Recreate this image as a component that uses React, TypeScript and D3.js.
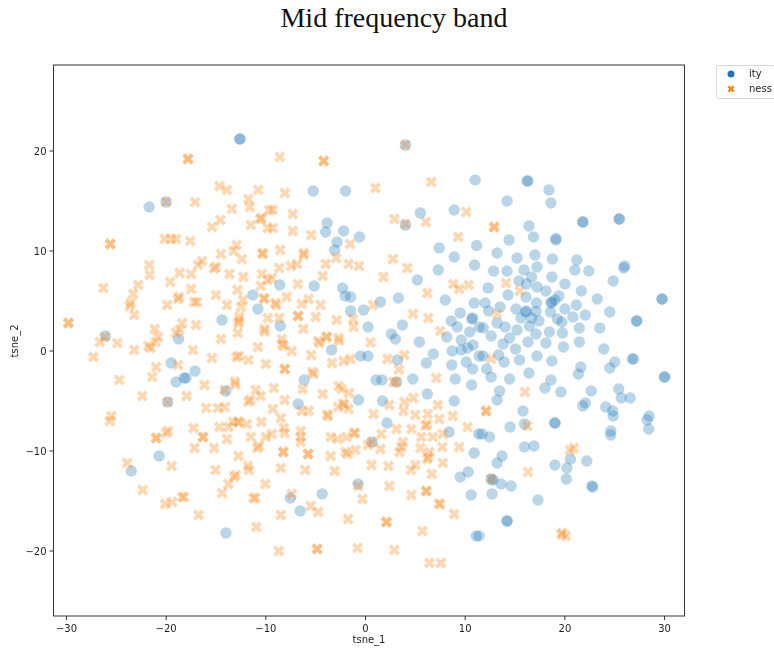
import React from "react";
import * as d3 from "d3";

const title = "Mid frequency band";
const xTicks = [-30, -20, -10, 0, 10, 20, 30];
const yTicks = [-20, -10, 0, 10, 20];
const legendLabels = ["ity", "ness"];

const ityPoints: [number, number][] = [
[-12.6,21.2],[-12.6,21.2],[-21.7,14.4],[-20,14.9],[-11.3,5.6],[-10.8,4.2],[-14.4,3.1],[-26.1,1.5],[-18.75,1.2],
[-19.5,-1.2],[-17.1,-2],[-19,-3.1],[-18.2,-2.7],[-18,-2.7],[-14,-4],[-19.85,-5.1],[-20.7,-10.5],[-23.5,-12],[-14,-18.2],
[4,20.6],[11,17.1],[-5.25,16],[-2,16],[8.9,14.1],[5.5,13.8],[-3.85,12.8],[-4,11.9],[-2.2,12],[4,12.6],[-0.6,11.4],[-2.85,10.9],[-3.1,10.1],[7.4,10.3],[11.15,10.55],[8.9,9.4],[10.95,8.6],[7.3,8.1],[5.2,7.1],[-8.6,6.6],[-5.15,6.5],[-2.3,6.3],[-2.05,5.5],[-1.5,5.4],[3.3,5.3],[8,5.1],[1.5,4.9],[10.9,4.8],[-1.5,4],[-0.2,4.1],[9.5,3.8],[8.6,3],[9.2,2.4],[10.65,3.2],[10.75,3.3],[10.45,1.9],[3.7,2.6],[0.25,2.4],[-8.55,2.5],[2.6,1.7],[3,1.2],[5.4,0.9],[8.15,1.4],[9.6,1.1],[11.4,2.4],
[-3.4,0.1],[-0.5,-0.5],[0.25,-0.5],[6.8,-0.3],[6.1,-1.2],[3.2,-0.9],[8.7,0],[9.6,0.1],[10.25,0.3],[10.8,0.6],[8.65,-1.4],[10.1,-1.1],[10.75,-1.8],[11.4,-0.5],[-6.15,-2.9],[1.05,-2.9],[1.65,-2.9],[3.1,-3.1],[4.75,-2.8],[9,-2.8],[10.65,-3.4],[6.2,-4.3],[8.9,-5],[-0.7,-4.9],[1.7,-5],[-6.75,-5.3],[2.15,-7.2],[8.4,-8.1],[11.35,-8.3],[0.65,-9.1],[10.9,-10.2],[10.3,-12.1],[9.5,-12.6],[-0.75,-13.3],[-4.35,-14.3],[-7.55,-14.7],[-6.55,-16],[10.6,-14.4],[11.1,-18.5],
[16.3,17],[16.2,17],[18.4,16.1],[14.2,15],[18.6,14.8],[16.4,12.5],[21.8,12.9],[21.8,12.9],[25.45,13.2],[25.45,13.2],[16.85,11.4],[14.4,11.1],[19.1,11.1],[19.1,11.25],[13.2,9.8],[17,9.6],[15.2,9.3],[18.75,9.2],[21.2,9.1],[17.2,8.4],[26,8.5],[25.9,8.3],[21,8.1],[22.4,8],[12.85,8],[14.2,8],[15.9,8.1],[18.7,7.4],[16.65,7.4],[24.85,7],[15.4,7],[16.15,6.7],[20,6.7],[17.2,6.4],[12.3,6.3],[18.1,6],[21.65,6],[14.3,5.6],[16.1,5.4],[19.4,5.5],[19,5.1],[18.6,4.8],[18.7,4.9],[23.25,5.2],[29.75,5.2],[29.75,5.2],[17.15,4.8],[12,4.8],[13.5,4.4],[21.15,4.6],[15.1,4.2],[20,4.2],[16.15,4],[16.05,3.9],[17.1,3.95],[12.35,4],[18.55,3.9],[24.5,3.9],[22.05,3.6],[20.8,3.4],[15.6,3.3],[16.65,3.3],[19.25,3.2],[17.4,3],[19.7,2.9],[27.2,3],[27.2,3],[13.2,2.8],[14,2.4],[11.8,2.3],[16.45,2.5],[21.45,2.3],[23.5,2.3],[15.2,2.1],[18.45,1.9],[17.1,1.7],[19.75,1.8],[12.6,1.5],[14.45,1.3],
[13.8,0.7],[15.05,0.2],[16.3,0.9],[18.1,0.8],[19.85,0.4],[21.45,0.9],[23.9,0.2],[13.35,-0.4],[11.8,-0.5],[17.2,-0.5],[13.9,-1.1],[15.45,-0.9],[18.7,-1],[21.6,-1.6],[21.35,-2.3],[25,-1.1],[24.5,-1.7],[26.9,-0.8],[26.75,-0.8],[12.15,-1.8],[12.6,-2.6],[14.45,-2.8],[16.4,-2.2],[30,-2.6],[30,-2.6],[18.6,-2.9],[18,-3.7],[19.6,-4.1],[22.65,-4],[25.4,-3.8],[13.45,-4],[25.65,-4.7],[26.55,-4.7],[13.2,-4.9],[22.05,-5.2],[21.8,-5.5],[24.1,-5.6],[24.8,-6],[24.85,-6.5],[15.8,-6],[28.45,-6.5],[28.25,-6.9],[28.4,-7.8],[15.95,-7.3],[19,-7.2],[19,-7.2],[14.5,-7.6],[24.6,-8],[24.6,-8.4],[11.7,-8.3],[12.45,-8.6],[15.95,-9.6],[16.9,-9.5],[13.7,-10.5],[13.2,-11.2],[20.55,-10.8],[22.2,-11],[19,-11.4],[20.2,-11.7],[20.15,-12.8],[12.8,-12.9],[12.6,-12.8],[13.6,-13.3],[14.6,-13.5],[22.8,-13.6],[22.7,-13.5],[12.7,-14.3],[17.3,-14.9],[14.2,-17],[14.2,-17],[11.4,-18.5],
];

const nessPoints: [number, number][] = [
[-17.8,19.2],[-17.8,19.2],[-14.65,16.5],[-13.9,16.1],[-10.75,16.1],[-20,14.9],[-17.1,14.9],[-11.75,15.2],[-11.6,14.4],[-13.4,14.2],[-9.65,14.1],[-10.55,13.2],[-10.45,13.3],[-14.55,13.1],[-15.4,12.4],[-11.5,12.6],[-9.8,12.3],[-20.15,11.2],[-19.5,11.2],[-19,11.2],[-17.6,11],[-25.6,10.7],[-25.6,10.7],[-12.95,10.6],[-13.25,10],[-10.35,9.8],[-10.3,9.7],[-14.5,9.7],[-12.4,9.2],[-21.7,8.6],[-16.4,9],[-16.8,8.6],[-15,8.4],[-15.2,8.25],[-18.65,7.8],[-17.5,7.7],[-13.65,7.7],[-10.4,7.7],[-21.65,7.6],[-12.25,7.4],[-22.8,6.6],[-19.6,6.9],[-26.3,6.3],[-10.5,6.5],[-17.5,6.2],[-12.85,6.1],[-9.8,7.1],[-23.3,5.7],[-15,5.6],[-18.8,5.2],[-18.7,5.4],[-17.2,4.9],[-16.9,4.9],[-10.2,5.3],[-10.15,5.2],[-23.55,4.8],[-23.65,4.5],[-19.9,4.6],[-13.9,4.6],[-12.3,5.1],[-12.5,4.4],[-23.2,3.6],[-9.8,3.3],[-12.65,3.4],[-12.7,3],[-12.75,2.75],[-18.4,2.8],[-17,2.6],[-29.8,2.8],[-29.8,2.8],[-21.15,2.2],[-10.15,2.2],[-10.1,1.95],[-12.8,1.8],[-19,1.8],[-18.65,2.1],[-20.8,1.4],[-26.15,1.4],[-14.5,1.2],
[-26.65,0.9],[-24.9,0.8],[-23.2,0.1],[-21.8,0.5],[-21.55,0.3],[-21.05,0.9],[-17.3,0.1],[-15.4,-0.7],[-12.95,-0.6],[-12.7,-0.5],[-11.75,-0.9],[-10.8,0.4],[-10,-1.3],[-27.3,-0.6],[-21,-1.6],[-18.8,-1.4],[-21.4,-2.6],[-24.7,-2.9],[-16.15,-3.4],[-13.1,-3.05],[-13.05,-3.35],[-14.15,-3.9],[-11,-3.9],[-22.4,-4.5],[-17.95,-4.5],[-19.85,-5.1],[-11.75,-5.05],[-11.55,-4.9],[-10.5,-4.5],[-16,-5.7],[-14.8,-5.7],[-14.1,-5.6],[-25.5,-6.5],[-25.65,-7],[-12.8,-7.1],[-12.7,-7.1],[-11.9,-7.3],[-13.3,-7.1],[-10.45,-7.1],[-17.25,-7.7],[-14.65,-7.6],[-13.75,-7.6],[-19.8,-8],[-20,-8.2],[-21.05,-8.7],[-20.95,-8.7],[-16.3,-8.6],[-16.3,-8.6],[-13.9,-8.8],[-11.5,-8.6],[-10,-8.6],[-17.15,-9.7],[-15.2,-9.7],[-10.7,-9.5],[-10.85,-9.7],[-12.75,-10.5],[-23.9,-11.2],[-19.45,-11.5],[-11.8,-11.5],[-11.7,-11.9],[-15.05,-11.9],[-13,-12.4],[-13.2,-12.6],[-13.75,-13.3],[-10.05,-13.3],[-22.35,-13.9],[-14.4,-14.2],[-18.4,-14.6],[-18.2,-14.6],[-19.4,-15.1],[-20.1,-15.3],[-11.25,-14.7],[-11.05,-14.7],[-16.75,-16.4],[-10.95,-17.6],
[-8.6,19.4],[-4.2,19],[-4.2,19],[4,20.6],[6.6,16.9],[-8.1,15.8],[1,16.3],[-9.3,14.1],[-7.3,13.7],[10.1,13.9],[2.9,13.2],[6.05,12.9],[4,12.7],[-9.3,12.3],[-7.3,12],[-5.45,11.6],[9.3,11.4],[-1.55,10.7],[-8.55,10.1],[-6.2,9.8],[-6.2,9.6],[-2.95,9.3],[2.75,9.2],[-4,8.7],[-1.7,8.7],[-0.65,8.5],[-8.65,8.3],[-7.5,8.5],[-6.85,8.7],[4.2,8.3],[1.8,7.4],[-4.3,7.5],[-9.4,7.3],[-6.8,6.7],[8.8,6.7],[10.35,6.6],[9.4,6.2],[6.2,5.8],[-7.9,5.4],[-5.7,5.2],[-9.05,4.8],[-8.95,4.6],[-6.4,4.7],[-4.5,4.6],[0.75,4.6],[4.75,3.7],[6.3,3.3],[-6.75,3.5],[-6.75,3.5],[-5,3.4],[-8.65,3.3],[-2.9,3.1],[-1.25,3.2],[-1.2,2.4],[-6.25,2.2],[7.5,2],[-3.9,1.4],[-3.9,1.4],[-8.4,1.2],[-2.7,1.3],[-4.75,1],
[-8.35,0.7],[-8.2,0.5],[-7.4,0],[-4.6,0.8],[-2.65,1],[0.5,0.85],[-5.45,-0.4],[-3.35,-1.2],[-2.2,-1],[-1.5,-0.8],[2.2,-0.8],[3.9,-0.4],[-8.1,-1.8],[-8.1,-1.8],[-5.35,-2.1],[-5.2,-2.3],[3.35,-1.85],[7.1,-2.7],[2.8,-3.1],[3.1,-3.1],[-9.2,-3.7],[-6.3,-3.8],[-2.7,-3.5],[-2.4,-3.8],[-4.3,-4.3],[-1.65,-4.2],[-8.1,-4.9],[-2.25,-5.25],[-2.1,-5.4],[-2.75,-5.6],[-1.7,-5.8],[2.4,-5.4],[3.9,-5.1],[4.8,-4.7],[3.8,-6],[7.25,-5.4],[-9.3,-5.8],[-6.4,-6],[-5.7,-6],[0.8,-6.3],[-3.85,-6.35],[-3.75,-6.5],[5,-6.4],[6.25,-6.3],[8.75,-6.5],[-8.5,-6.7],[7.4,-6.8],[6.2,-7.35],[6,-7.45],[10.25,-7.6],[-8.2,-7.7],[3.1,-7.8],[4.6,-7.8],[-6.5,-8],[-8.1,-8.2],[-9.4,-8.3],[-6.5,-8.6],[-1.1,-8.2],[-1.1,-8.2],[1.6,-8.3],[5.6,-8.6],[7.75,-8.3],[6.75,-8.6],[-3.5,-8.6],[-2.8,-8.8],[-1.9,-8.6],[-6.5,-9.1],[3.75,-9.1],[9.4,-9.6],[0.65,-9.1],[0.25,-9.4],[7.7,-9.6],[3.6,-9.6],[5.5,-9.7],[1.5,-9.8],[6.4,-10.1],[-1,-9.9],[-2,-10.1],[-1.8,-10.3],[-8.25,-10.1],[-8.25,-10.1],[-5.75,-10.3],[-5.75,-10.3],[3.4,-10.1],[-3.5,-10.5],[6.3,-10.6],[6.2,-10.8],[7.75,-11.2],[0.6,-11.4],[2.3,-11.5],[5,-11.4],[-8.5,-11.7],[-6.05,-11.9],[-3.1,-12],[4.55,-11.9],[6.65,-12.3],[2.4,-13.5],[-0.75,-13.5],[6.1,-14],[6.1,-14],[4.6,-14.4],[-7.4,-14.3],[-0.3,-14.8],[7.35,-15.25],[7.5,-15.35],[-5.5,-15.5],[-4.75,-16.1],[-8.5,-16.4],[8.9,-16.3],[-1.75,-16.8],[2.1,-17.1],[2.1,-17.1],[5.7,-18],[-8.7,-20],[-4.85,-19.8],[-4.85,-19.8],[-0.8,-19.7],[2.9,-19.9],[6.4,-21.2],[7.55,-21.2],
[12.9,12.4],[12.9,12.4],[14.1,6.8],[15.45,6],[13.2,3.7],
[12.6,-0.8],[12.1,-6],[12.1,-6],[16,-4.1],[16.25,-7.5],[20.9,-9.7],[20.5,-9.9],[16.3,-12.1],[12.6,-12.8],[19.75,-18.2],[19.65,-18.35],[20.1,-18.5],
];

const BLUE = "#1f77b4";
const ORANGE = "#ff7f0e";
const plot = { left: 53.5, right: 684.5, top: 65, bottom: 616 };
const x = d3.scaleLinear().domain([-31.3, 32]).range([plot.left, plot.right]);
const y = d3.scaleLinear().domain([-26.5, 28.6]).range([plot.bottom, plot.top]);

const xMark = (r: number) => {
  const a = r * 0.42;
  const s = r * 0.82;
  const pts: [number, number][] = [
    [-s, -s + a], [-s + a, -s], [0, -a * 0.9], [s - a, -s], [s, -s + a], [a * 0.9, 0],
    [s, s - a], [s - a, s], [0, a * 0.9], [-s + a, s], [-s, s - a], [-a * 0.9, 0],
  ];
  return (d3.line()(pts) as string) + "Z";
};
const xPath = xMark(6.9);
const font = "'DejaVu Sans', sans-serif";
const fmt = (v: number) => (v < 0 ? "\u2212" + Math.abs(v) : String(v));

export default function App() {
  return (
    <svg width={774} height={651} style={{ position: "absolute", left: 0, top: 0, background: "#fff" }}>
      <defs>
        <filter id="soft" x="-5%" y="-5%" width="110%" height="110%">
          <feGaussianBlur stdDeviation="0.45" />
        </filter>
      </defs>
      <text x={394} y={27} textAnchor="middle" fontFamily="'Liberation Serif', serif" fontSize={28} fill="#111">{title}</text>
      <g filter="url(#soft)">
        <g>
          {ityPoints.map((d, i) => (
            <circle key={i} cx={x(d[0])} cy={y(d[1])} r={5.7} fill={BLUE} fillOpacity={0.31} />
          ))}
          {nessPoints.map((d, i) => (
            <path key={i} d={xPath} transform={`translate(${x(d[0])},${y(d[1])})`} fill={ORANGE} fillOpacity={0.3} />
          ))}
        </g>
        <rect x={plot.left} y={plot.top} width={plot.right - plot.left} height={plot.bottom - plot.top} fill="none" stroke="#333" strokeWidth={1} />
        {xTicks.map((t) => (
          <g key={t} transform={`translate(${x(t)},${plot.bottom})`}>
            <line y2={4} stroke="#333" />
            <text y={16} textAnchor="middle" fontFamily={font} fontSize={10} fill="#222">{fmt(t)}</text>
          </g>
        ))}
        {yTicks.map((t) => (
          <g key={t} transform={`translate(${plot.left},${y(t)})`}>
            <line x2={-4} stroke="#333" />
            <text x={-7} y={3.5} textAnchor="end" fontFamily={font} fontSize={10} fill="#222">{fmt(t)}</text>
          </g>
        ))}
        <text x={369} y={643} textAnchor="middle" fontFamily={font} fontSize={10} fill="#222">tsne_1</text>
        <text transform="translate(18,341) rotate(-90)" textAnchor="middle" fontFamily={font} fontSize={10} fill="#222">tsne_2</text>
        <rect x={716.5} y={65.5} width={70} height={33} rx={2} fill="#fff" stroke="#d8d8d8" />
        {legendLabels.map((l, i) => (
          <g key={l} transform={`translate(731,${74 + i * 15})`}>
            {i === 0 ? <circle r={3.5} fill={BLUE} /> : <path d={xMark(4.2)} fill={ORANGE} />}
            <text x={18} y={3} fontFamily={font} fontSize={10} fill="#222">{l}</text>
          </g>
        ))}
      </g>
    </svg>
  );
}
